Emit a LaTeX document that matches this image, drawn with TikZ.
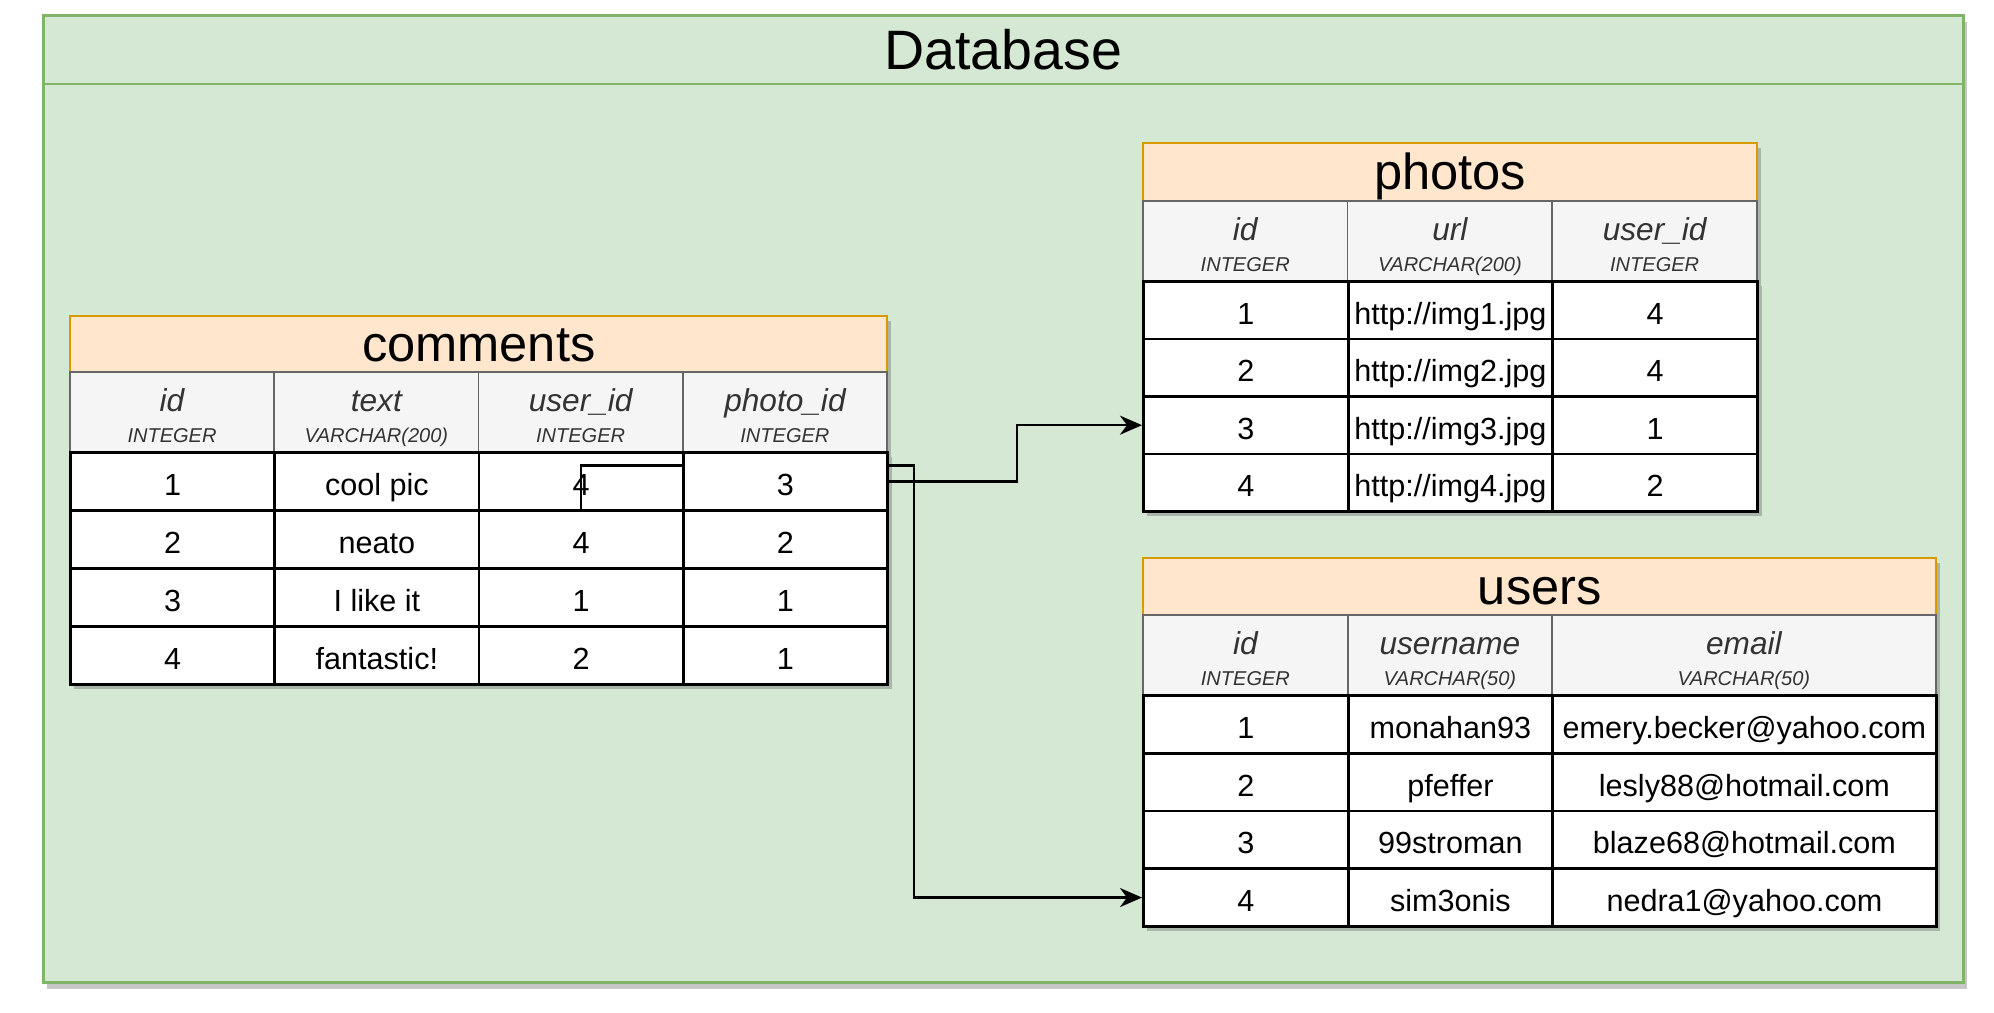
\documentclass[tikz,border=0pt]{standalone}
\usepackage{fontspec}
\setmainfont{Liberation Sans}
\usetikzlibrary{arrows.meta,positioning,shadows}

\definecolor{dbfill}{HTML}{D5E8D4}
\definecolor{dbline}{HTML}{82B366}
\definecolor{ttfill}{HTML}{FFE6CC}
\definecolor{ttline}{HTML}{D79B00}
\definecolor{hdfill}{HTML}{F5F5F5}
\definecolor{hdline}{HTML}{666666}
\definecolor{hdtext}{HTML}{333333}
\definecolor{shade}{HTML}{A9B5A8}

% column name on top, its type below
\newcommand{\colhd}[2]{\rule{0pt}{10pt}#1\\{\fontsize{5.7}{8.7}\selectfont #2\rule[-1.5pt]{0pt}{1.5pt}}}

\begin{document}
\begin{tikzpicture}[
    dbbox/.style={draw=dbline, fill=dbfill, line width=0.8pt, anchor=north west, inner sep=0},
    sh/.style={drop shadow={shadow xshift=0.04cm, shadow yshift=-0.05cm, fill=shade, opacity=1}},
    tabtitle/.style={draw=ttline, fill=ttfill, line width=0.7pt, anchor=north west, inner sep=0, sh, text height=12pt, text depth=2pt, font=\fontsize{14.4}{16}\selectfont},
    colhead/.style={draw=hdline, fill=hdfill, line width=0.5pt, anchor=north west, inner sep=0, minimum height=0.8cm, align=center, sh, text=hdtext, font=\fontsize{9}{8.7}\selectfont\itshape},
    cell/.style={draw, fill=white, line width=0.8pt, anchor=north west, inner sep=0, sh, text height=9pt, text depth=1pt, font=\fontsize{8.7}{10}\selectfont},
    link/.style={line width=0.75pt, -{Stealth[length=0.22cm, width=0.19cm, inset=0.07cm]}},
    >=Stealth
]
\useasboundingbox (0,0) rectangle (19.94,-10.12);

% database frame
\node[dbbox, minimum width=19.2cm, minimum height=9.67cm, drop shadow={shadow xshift=0.04cm, shadow yshift=-0.07cm, fill=black!22, opacity=1}] (db) at (0.42,-0.14) {};
\draw[draw=dbline, line width=0.8pt] ([yshift=-0.7cm]db.north west) -- ([yshift=-0.7cm]db.north east);
\node[font=\fontsize{15.8}{18}\selectfont] (dbname) at ([yshift=-0.36cm]db.north) {Database};

% comments
\node[tabtitle, minimum width=8.17cm, minimum height=0.56cm] (ct) at (0.69,-3.15) {comments};
\foreach \nm/\ty [count=\col] in {id/INTEGER, text/{VARCHAR(200)}, user\_id/INTEGER, photo\_id/INTEGER}
  \node[colhead, minimum width=2.043cm] (ch\col) at ({0.69+(\col-1)*2.043},-3.71) {\colhd{\nm}{\ty}};
\foreach \a/\b/\c/\d [count=\row] in {1/cool pic/4/3, 2/neato/4/2, 3/I like it/1/1, 4/fantastic!/2/1}
  \foreach \v [count=\col] in {\a,\b,\c,\d}
    \node[cell, minimum width=2.043cm, minimum height=0.58cm] (c\row-\col) at ({0.69+(\col-1)*2.043},{-4.51-(\row-1)*0.58}) {\v};

% photos
\node[tabtitle, minimum width=6.14cm, minimum height=0.58cm] (pt) at (11.42,-1.42) {photos};
\foreach \nm/\ty [count=\col] in {id/INTEGER, url/{VARCHAR(200)}, user\_id/INTEGER}
  \node[colhead, minimum width=2.047cm] (ph\col) at ({11.42+(\col-1)*2.047},-2.00) {\colhd{\nm}{\ty}};
\foreach \a/\b/\c [count=\row] in {1/{http://img1.jpg}/4, 2/{http://img2.jpg}/4, 3/{http://img3.jpg}/1, 4/{http://img4.jpg}/2}
  \foreach \v [count=\col] in {\a,\b,\c}
    \node[cell, minimum width=2.047cm, minimum height=0.575cm] (p\row-\col) at ({11.42+(\col-1)*2.047},{-2.80-(\row-1)*0.575}) {\v};

% users
\node[tabtitle, minimum width=7.93cm, minimum height=0.57cm] (ut) at (11.42,-5.57) {users};
\foreach \x/\w/\nm/\ty [count=\col] in {11.42/2.05/id/INTEGER, 13.47/2.04/username/{VARCHAR(50)}, 15.51/3.84/email/{VARCHAR(50)}}
  \node[colhead, minimum width=\w cm] (uh\col) at (\x,-6.14) {\colhd{\nm}{\ty}};
\foreach \a/\b/\c [count=\row] in {1/monahan93/emery.becker@yahoo.com, 2/pfeffer/lesly88@hotmail.com, 3/99stroman/blaze68@hotmail.com, 4/sim3onis/nedra1@yahoo.com}
  \foreach \x/\w/\v [count=\col] in {11.42/2.05/\a, 13.47/2.04/\b, 15.51/3.84/\c}
    \node[cell, minimum width=\w cm, minimum height=0.5775cm] (u\row-\col) at (\x,{-6.94-(\row-1)*0.5775}) {\v};

% links
\draw[link] (c1-4.east) -- ++(1.28,0) |- (p3-1.west);
\draw[line width=0.75pt] (c1-3.south) |- ([yshift=0.16cm]c1-4.west);
\draw[link] ([yshift=0.16cm]c1-4.east) -- ++(0.25,0) |- (u4-1.west);
\end{tikzpicture}
\end{document}
